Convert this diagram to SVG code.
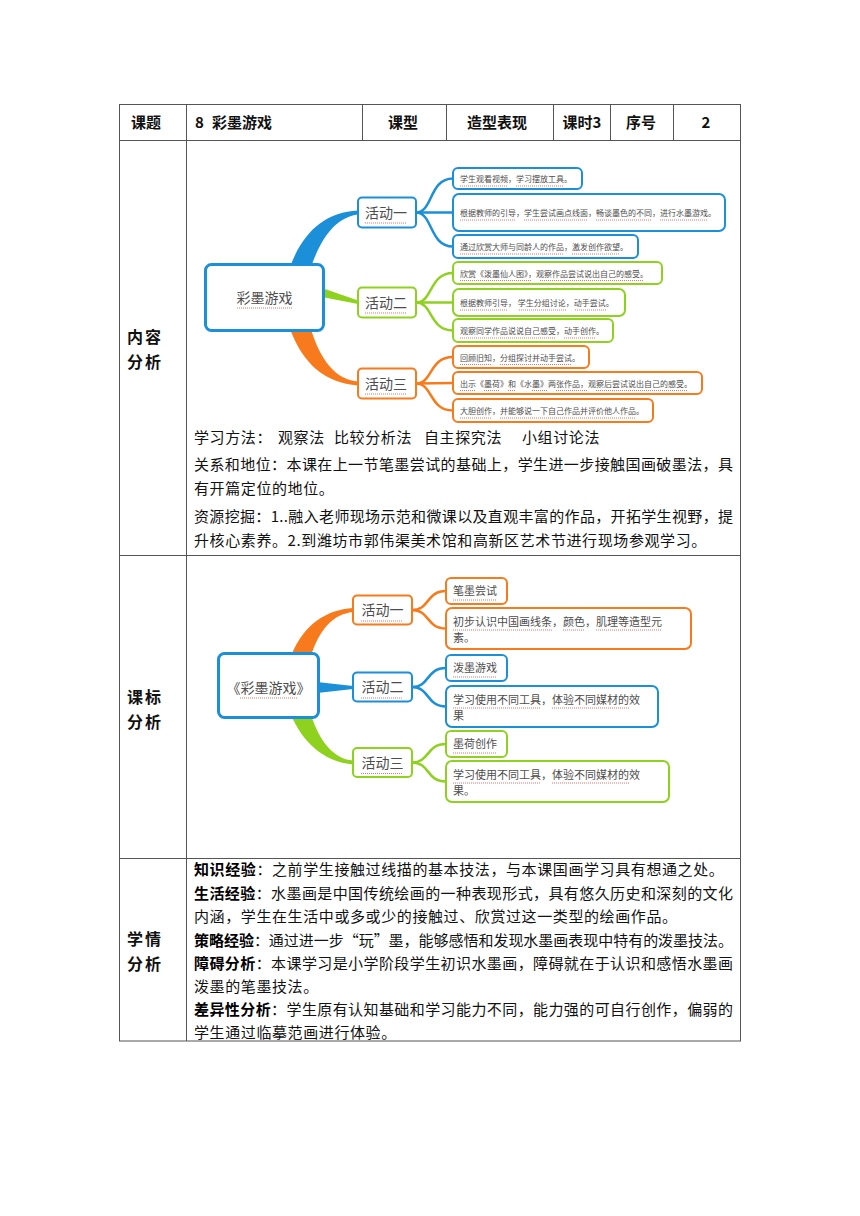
<svg xmlns="http://www.w3.org/2000/svg" width="860" height="1216" viewBox="0 0 860 1216">
<defs>
<style>
text{font-family:"Noto Sans CJK SC","Noto Sans",sans-serif}
.grid{stroke:#555;stroke-width:1;fill:none}
.hd{font-size:15px;font-weight:bold;fill:#111}
.lb{font-size:16px;font-weight:bold;fill:#111;letter-spacing:2px}
.body{font-size:15px;fill:#111;letter-spacing:0.6px}
.bl{font-weight:bold;fill:#000}
.mt{fill:#4d4d4d}
.m14{font-size:14px}
.m8{font-size:8px}
.m11{font-size:11px}
.ul{stroke:#e57373;stroke-width:1;stroke-dasharray:1 1;fill:none}
.box{fill:#fff}
.b{stroke:#1b8fd8}.g{stroke:#8fd11f}.o{stroke:#f77b1c}
.bf{fill:#1b8fd8}.gf{fill:#8fd11f}.of{fill:#f77b1c}
.sub{fill:none;stroke-width:2.5}
</style>
</defs>
<rect width="860" height="1216" fill="#fff"/>

<g id="table">
<rect class="grid" x="119.5" y="104.5" width="621" height="936.5"/>
<line class="grid" x1="119.5" y1="140.5" x2="740.5" y2="140.5"/>
<line class="grid" x1="119.5" y1="555.5" x2="740.5" y2="555.5"/>
<line class="grid" x1="119.5" y1="858.5" x2="740.5" y2="858.5"/>
<line class="grid" x1="186.5" y1="104.5" x2="186.5" y2="1041"/>
<line class="grid" x1="362.5" y1="104.5" x2="362.5" y2="140.5"/>
<line class="grid" x1="446.5" y1="104.5" x2="446.5" y2="140.5"/>
<line class="grid" x1="553.5" y1="104.5" x2="553.5" y2="140.5"/>
<line class="grid" x1="610.5" y1="104.5" x2="610.5" y2="140.5"/>
<line class="grid" x1="673.5" y1="104.5" x2="673.5" y2="140.5"/>
</g>

<g id="header">
<text class="hd" x="146" y="128" text-anchor="middle">课题</text>
<text class="hd" x="195" y="128">8<tspan x="212">彩墨游戏</tspan></text>
<text class="hd" x="403" y="128" text-anchor="middle">课型</text>
<text class="hd" x="497" y="128" text-anchor="middle">造型表现</text>
<text class="hd" x="582" y="128" text-anchor="middle">课时3</text>
<text class="hd" x="641" y="128" text-anchor="middle">序号</text>
<text class="hd" x="706" y="128" text-anchor="middle">2</text>
</g>

<g id="row-labels">
<text class="lb" x="145" y="343" text-anchor="middle">内容</text>
<text class="lb" x="145" y="368" text-anchor="middle">分析</text>
<text class="lb" x="145" y="703" text-anchor="middle">课标</text>
<text class="lb" x="145" y="728" text-anchor="middle">分析</text>
<text class="lb" x="145" y="945" text-anchor="middle">学情</text>
<text class="lb" x="145" y="970" text-anchor="middle">分析</text>
</g>

<!-- Mind map 1 connectors -->
<g id="connectors-1">
<path class="bf" d="M290,267 C303,232 325,212 358,210.5 L358,214.5 C336,217 321,238 311,267 Z"/>
<path class="gf" d="M322,288 L358,300.5 L358,304 L322,297 Z"/>
<path class="of" d="M290,329 C303,364 325,383 358,385.5 L358,381.5 C336,380 320,360 311,329 Z"/>
<path class="sub b" d="M416,212.5 C433,212.5 429,178.5 453,178.5"/>
<path class="sub b" d="M416,212.5 L453,212.5"/>
<path class="sub b" d="M416,212.5 C433,212.5 429,246.5 453,246.5"/>
<path class="sub g" d="M416,302.5 C433,302.5 429,273 453,273"/>
<path class="sub g" d="M416,302.5 L453,302.5"/>
<path class="sub g" d="M416,302.5 C433,302.5 429,330.5 453,330.5"/>
<path class="sub o" d="M416,383.5 C433,383.5 429,357 453,357"/>
<path class="sub o" d="M416,383.5 L453,383"/>
<path class="sub o" d="M416,383.5 C433,383.5 429,410.5 453,410.5"/>
</g>

<g id="m1-root">
<rect class="box b" x="205.5" y="264.5" width="118" height="66" rx="6" stroke-width="3"/>
<text class="mt m14" x="264.5" y="303" text-anchor="middle">彩墨游戏</text>
<line class="ul" x1="237" y1="308" x2="292" y2="308"/>
</g>
<g id="m1-a1">
<rect class="box b" x="358" y="197.5" width="58" height="30" rx="4" stroke-width="2"/>
<text class="mt m14" x="386" y="218" text-anchor="middle">活动一</text>
<line class="ul" x1="365" y1="223" x2="406" y2="223"/>
</g>
<g id="m1-a2">
<rect class="box g" x="358" y="287.5" width="58" height="30" rx="4" stroke-width="2"/>
<text class="mt m14" x="386" y="308" text-anchor="middle">活动二</text>
<line class="ul" x1="365" y1="313" x2="406" y2="313"/>
</g>
<g id="m1-a3">
<rect class="box o" x="358" y="368.5" width="58" height="30" rx="4" stroke-width="2"/>
<text class="mt m14" x="386" y="389" text-anchor="middle">活动三</text>
<line class="ul" x1="365" y1="394" x2="406" y2="394"/>
</g>

<g id="m1-l11">
<rect class="box b" x="453" y="168" width="129" height="21" rx="5" stroke-width="2"/>
<text class="mt m8" x="460" y="182">学生观看视频，学习摆放工具。</text>
<path class="ul" d="M460,186H508M516,186H564"/>
</g>
<g id="m1-l12">
<rect class="box b" x="453" y="194" width="272" height="37" rx="6" stroke-width="2"/>
<text class="mt m8" x="460" y="216">根据教师的引导，学生尝试画点线面，畅谈墨色的不同，进行水墨游戏。</text>
<path class="ul" d="M460,220H516M524,220H588M596,220H652M660,220H708"/>
</g>
<g id="m1-l13">
<rect class="box b" x="453" y="235" width="185" height="23" rx="5" stroke-width="2"/>
<text class="mt m8" x="460" y="250">通过欣赏大师与同龄人的作品，激发创作欲望。</text>
<path class="ul" d="M460,254H564M572,254H620"/>
</g>
<g id="m1-l21">
<rect class="box g" x="453" y="262" width="209" height="22" rx="5" stroke-width="2"/>
<text class="mt m8" x="460" y="276.5">欣赏《泼墨仙人图》，观察作品尝试说出自己的感受。</text>
<path class="ul" d="M460,280.5H532M540,280.5H644"/>
</g>
<g id="m1-l22">
<rect class="box g" x="453" y="289" width="172" height="27" rx="6" stroke-width="2"/>
<text class="mt m8" x="460" y="306">根据教师引导， 学生分组讨论，动手尝试。</text>
<path class="ul" d="M460,310H508M519,310H567M575,310H607"/>
</g>
<g id="m1-l23">
<rect class="box g" x="453" y="319" width="160" height="23" rx="5" stroke-width="2"/>
<text class="mt m8" x="460" y="334">观察同学作品说说自己感受，动手创作。</text>
<path class="ul" d="M460,338H556M564,338H596"/>
</g>
<g id="m1-l31">
<rect class="box o" x="453" y="346" width="136" height="22" rx="5" stroke-width="2"/>
<text class="mt m8" x="460" y="360.5">回顾旧知，分组探讨并动手尝试。</text>
<path class="ul" d="M460,364.5H492M500,364.5H572"/>
</g>
<g id="m1-l32">
<rect class="box o" x="453" y="372" width="249" height="22" rx="5" stroke-width="2"/>
<text class="mt m8" x="460" y="386.5">出示《墨荷》和《水墨》两张作品，观察后尝试说出自己的感受。</text>
<path class="ul" d="M460,390.5H476M484,390.5H500M508,390.5H516M532,390.5H548M556,390.5H588M596,390.5H688"/>
</g>
<g id="m1-l33">
<rect class="box o" x="453" y="399" width="200" height="23" rx="5" stroke-width="2"/>
<text class="mt m8" x="460" y="414">大胆创作，并能够说一下自己作品并评价他人作品。</text>
<path class="ul" d="M460,418H492M500,418H636"/>
</g>

<g id="row2-text" class="body">
<text x="194" y="443">学习方法：<tspan x="278">观察法</tspan><tspan x="334">比较分析法</tspan><tspan x="424">自主探究法</tspan><tspan x="522">小组讨论法</tspan></text>
<text x="194" y="470" textLength="539" lengthAdjust="spacing" style="letter-spacing:0">关系和地位：本课在上一节笔墨尝试的基础上，学生进一步接触国画破墨法，具</text>
<text x="194" y="494">有开篇定位的地位。</text>
<text x="194" y="522" textLength="539" lengthAdjust="spacing" style="letter-spacing:0">资源挖掘：1..融入老师现场示范和微课以及直观丰富的作品，开拓学生视野，提</text>
<text x="194" y="546">升核心素养。2.到潍坊市郭伟渠美术馆和高新区艺术节进行现场参观学习。</text>
</g>

<!-- Mind map 2 connectors -->
<g id="connectors-2">
<path class="of" d="M291,656 C304,624 326,610 353,608 L353,612 C333,614 319,630 311,656 Z"/>
<path class="bf" d="M317,682 L353,686 L353,689 L317,693 Z"/>
<path class="gf" d="M291,715 C304,745 326,762 353,764.5 L353,760.5 C333,759 319,740 311,715 Z"/>
<path class="sub o" d="M412,610 C430,610 426,591 446,591"/>
<path class="sub o" d="M412,610 C430,610 426,628.5 446,628.5"/>
<path class="sub b" d="M412,687 C430,687 426,668 446,668"/>
<path class="sub b" d="M412,687 C430,687 426,706.5 446,706.5"/>
<path class="sub g" d="M412,762.5 C430,762.5 426,744 446,744"/>
<path class="sub g" d="M412,762.5 C430,762.5 426,781.5 446,781.5"/>
</g>

<g id="m2-root">
<rect class="box b" x="218.5" y="653.5" width="100" height="64" rx="6" stroke-width="3"/>
<text class="mt m14" x="268.5" y="693" text-anchor="middle">《彩墨游戏》</text>
<line class="ul" x1="240" y1="698" x2="297" y2="698"/>
</g>
<g id="m2-a1">
<rect class="box o" x="353" y="595.5" width="59" height="29" rx="4" stroke-width="2"/>
<text class="mt m14" x="382.5" y="615" text-anchor="middle">活动一</text>
<line class="ul" x1="361" y1="621" x2="402" y2="621"/>
</g>
<g id="m2-a2">
<rect class="box b" x="353" y="672.5" width="59" height="29" rx="4" stroke-width="2"/>
<text class="mt m14" x="382.5" y="692" text-anchor="middle">活动二</text>
<line class="ul" x1="361" y1="698" x2="402" y2="698"/>
</g>
<g id="m2-a3">
<rect class="box g" x="353" y="748" width="59" height="29" rx="4" stroke-width="2"/>
<text class="mt m14" x="382.5" y="767.5" text-anchor="middle">活动三</text>
<line class="ul" x1="361" y1="773.5" x2="402" y2="773.5"/>
</g>

<g id="m2-l11">
<rect class="box o" x="446" y="578" width="61" height="26" rx="5" stroke-width="2"/>
<text class="mt m11" x="453" y="595">笔墨尝试</text>
<line class="ul" x1="453" y1="600" x2="497" y2="600"/>
</g>
<g id="m2-l12">
<rect class="box o" x="446" y="608" width="245" height="41" rx="6" stroke-width="2"/>
<text class="mt m11" x="453" y="625.5">初步认识中国画线条，颜色，肌理等造型元</text>
<text class="mt m11" x="453" y="642">素。</text>
<path class="ul" d="M453,630H552M563,630H585M596,630H662"/>
</g>
<g id="m2-l21">
<rect class="box b" x="446" y="655" width="61" height="26" rx="5" stroke-width="2"/>
<text class="mt m11" x="453" y="672">泼墨游戏</text>
<line class="ul" x1="453" y1="677" x2="497" y2="677"/>
</g>
<g id="m2-l22">
<rect class="box b" x="446" y="686" width="212" height="41" rx="6" stroke-width="2"/>
<text class="mt m11" x="453" y="703.5">学习使用不同工具，体验不同媒材的效</text>
<text class="mt m11" x="453" y="720">果</text>
<path class="ul" d="M453,708H541M552,708H629"/>
</g>
<g id="m2-l31">
<rect class="box g" x="446" y="731" width="61" height="26" rx="5" stroke-width="2"/>
<text class="mt m11" x="453" y="748">墨荷创作</text>
<line class="ul" x1="453" y1="753" x2="497" y2="753"/>
</g>
<g id="m2-l32">
<rect class="box g" x="446" y="761" width="223" height="41" rx="6" stroke-width="2"/>
<text class="mt m11" x="453" y="778.5">学习使用不同工具，体验不同媒材的效</text>
<text class="mt m11" x="453" y="795">果。</text>
<path class="ul" d="M453,783H541M552,783H629"/>
</g>

<g id="row4-text" class="body">
<text x="194" y="875"><tspan class="bl">知识经验</tspan>：之前学生接触过线描的基本技法，与本课国画学习具有想通之处。</text>
<text x="194" y="899" textLength="539" lengthAdjust="spacing" style="letter-spacing:0"><tspan class="bl">生活经验</tspan>：水墨画是中国传统绘画的一种表现形式，具有悠久历史和深刻的文化</text>
<text x="194" y="922">内涵，学生在生活中或多或少的接触过、欣赏过这一类型的绘画作品。</text>
<text x="194" y="946" textLength="539" lengthAdjust="spacing" style="letter-spacing:0"><tspan class="bl">策略经验</tspan>：通过进一步“玩”墨，能够感悟和发现水墨画表现中特有的泼墨技法。</text>
<text x="194" y="969" textLength="539" lengthAdjust="spacing" style="letter-spacing:0"><tspan class="bl">障碍分析</tspan>：本课学习是小学阶段学生初识水墨画，障碍就在于认识和感悟水墨画</text>
<text x="194" y="992">泼墨的笔墨技法。</text>
<text x="194" y="1015" textLength="539" lengthAdjust="spacing" style="letter-spacing:0"><tspan class="bl">差异性分析</tspan>：学生原有认知基础和学习能力不同，能力强的可自行创作，偏弱的</text>
<text x="194" y="1038">学生通过临摹范画进行体验。</text>
</g>
</svg>
